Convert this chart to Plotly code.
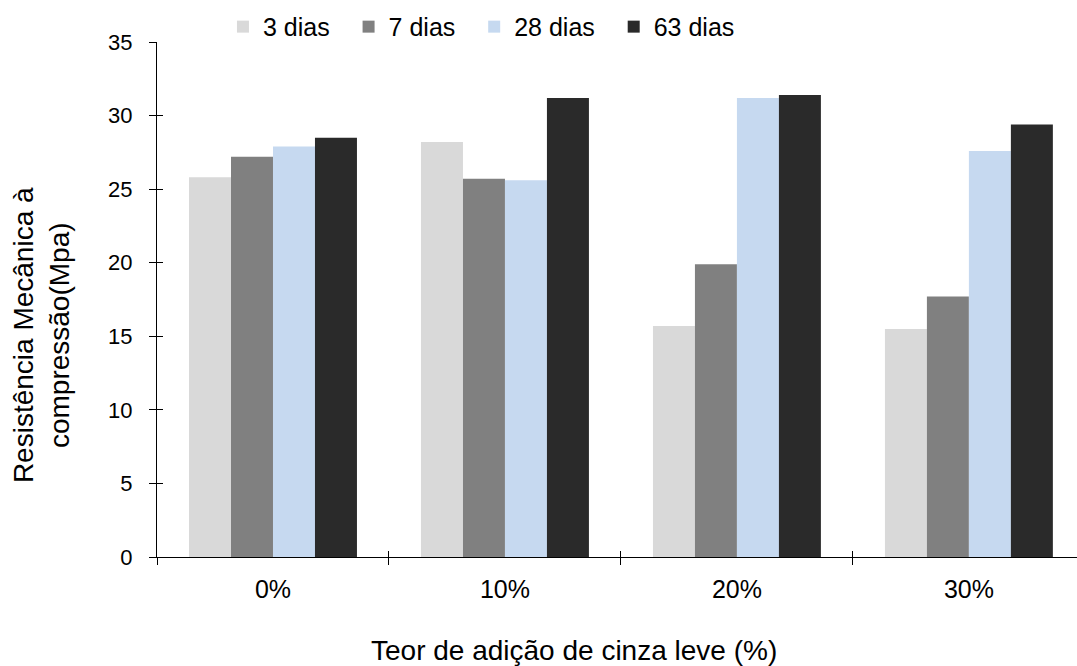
import plotly.graph_objects as go

# Compressive strength by fly ash content and curing age
categories = ["0%", "10%", "20%", "30%"]
series_names = ["3 dias", "7 dias", "28 dias", "63 dias"]
dias_3 = [25.8, 28.2, 15.7, 15.5]
dias_7 = [27.2, 25.7, 19.9, 17.7]
dias_28 = [27.9, 25.6, 31.2, 27.6]
dias_63 = [28.5, 31.2, 31.4, 29.4]
y_ticks = [0, 5, 10, 15, 20, 25, 30, 35]

x_title = "Teor de adição de cinza leve (%)"
y_title = "Resistência Mecânica à<br>compressão(Mpa)"

colors = ["#D9D9D9", "#808080", "#C6D9F0", "#2A2A2A"]
font_family = "Liberation Sans, Arial, sans-serif"
NBSP = "\u00a0"

fig = go.Figure()
for name, vals, col in zip(series_names, [dias_3, dias_7, dias_28, dias_63], colors):
    fig.add_trace(go.Bar(
        x=categories, y=vals, name=name + NBSP * 2,
        marker=dict(color=col, line=dict(width=0)),
    ))

# invisible trace that carries the inner half of the crossing tick marks
fig.add_trace(go.Scatter(x=categories, y=[0] * 4, xaxis="x2", yaxis="y2",
                         mode="markers", marker=dict(opacity=0),
                         showlegend=False, hoverinfo="skip"))

x_range = [-0.5, 3.466]
fig.update_layout(
    width=1077, height=666,
    margin=dict(l=157, r=0, t=42, b=109),
    paper_bgcolor="white", plot_bgcolor="white",
    font=dict(family=font_family, size=22, color="#000000"),
    barmode="group", bargap=0.276, bargroupgap=0,
    showlegend=True,
    legend=dict(orientation="h", x=0.0717, y=1.074, xanchor="left", yanchor="top",
                font=dict(size=25, color="#000000"), itemwidth=30,
                traceorder="normal", bgcolor="rgba(0,0,0,0)"),
    xaxis=dict(
        type="category", range=x_range,
        showline=True, linecolor="#000000", linewidth=1.3,
        ticks="outside", tickson="boundaries", ticklen=7, tickwidth=1.3,
        tickcolor="#000000", showgrid=False, zeroline=False,
        tickfont=dict(size=25), ticklabelstandoff=10,
    ),
    yaxis=dict(
        range=[0, 35], tickvals=y_ticks,
        showline=True, linecolor="#000000", linewidth=1.3,
        ticks="outside", ticklen=7, tickwidth=1.3, tickcolor="#000000",
        showgrid=False, zeroline=False, tickfont=dict(size=22),
        ticklabelstandoff=12,
    ),
    xaxis2=dict(
        type="category", range=x_range, overlaying="x", matches=None,
        showline=False, ticks="inside", tickson="boundaries", ticklen=6,
        tickwidth=1.3, tickcolor="#000000", showticklabels=False,
        showgrid=False, zeroline=False,
    ),
    yaxis2=dict(
        range=[0, 35], tickvals=y_ticks, overlaying="y",
        showline=False, ticks="inside", ticklen=6, tickwidth=1.3,
        tickcolor="#000000", showticklabels=False, showgrid=False, zeroline=False,
    ),
    annotations=[
        dict(text=x_title, xref="paper", yref="paper", x=0.453, y=-0.181,
             xanchor="center", yanchor="middle", showarrow=False,
             font=dict(size=28)),
        dict(text=y_title, xref="paper", yref="paper", x=-0.126, y=0.431,
             xanchor="center", yanchor="middle", showarrow=False,
             textangle=-90, font=dict(size=28)),
    ],
)

fig.write_html("out.html")
